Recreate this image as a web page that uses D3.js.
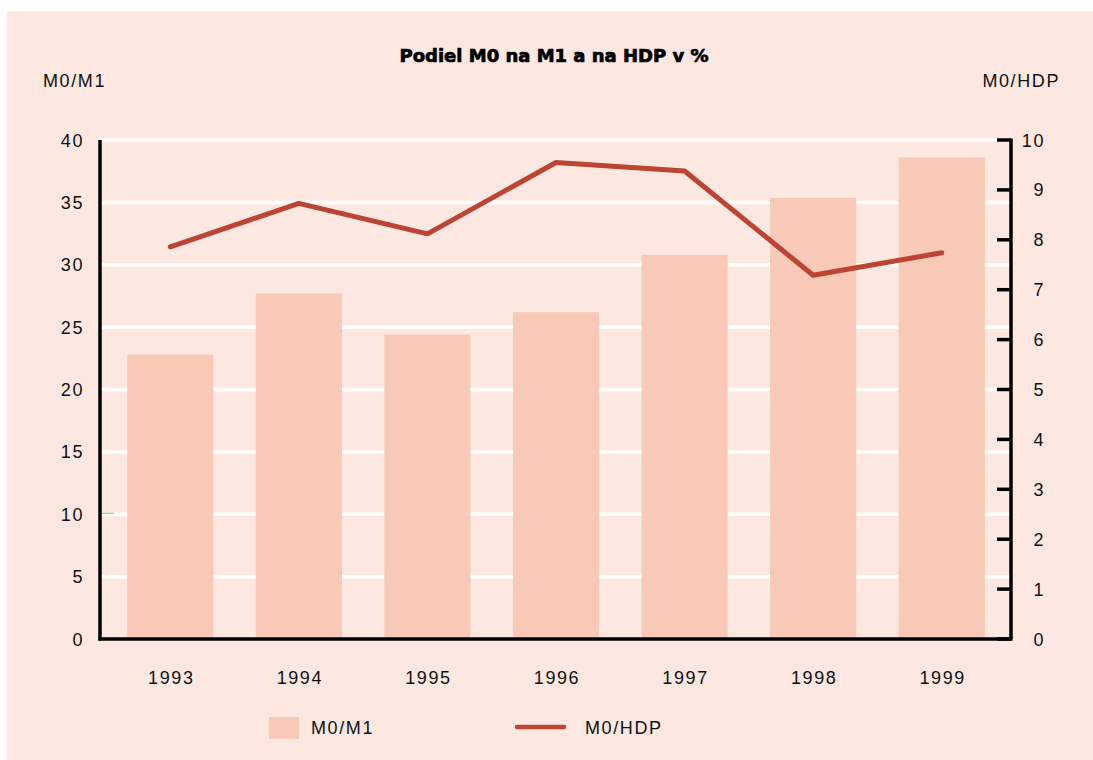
<!DOCTYPE html>
<html>
<head>
<meta charset="utf-8">
<script src="https://cdn.jsdelivr.net/npm/d3@7"></script>
<style>
  body { margin: 0; background: #fff; }
  text { font-family: "Liberation Sans", Arial, sans-serif; fill: #111; }
  .tick-label { font-size: 18px; letter-spacing: 1.6px; }
  .title { font-family: "DejaVu Sans", sans-serif; font-weight: bold; font-size: 18px; fill: #000; stroke: #000; stroke-width: 0.7px; }
</style>
</head>
<body>
<svg width="1093" height="760"></svg>
<script>
var years = ["1993", "1994", "1995", "1996", "1997", "1998", "1999"];
var m0m1 = [22.8, 27.7, 24.4, 26.2, 30.8, 35.35, 38.6];
var m0hdp = [7.86, 8.73, 8.12, 9.55, 9.38, 7.29, 7.74];
var leftTicks = [0, 5, 10, 15, 20, 25, 30, 35, 40];
var rightTicks = [0, 1, 2, 3, 4, 5, 6, 7, 8, 9, 10];

(function () {
  let svg = d3.select("svg"),
      bg = "#fce8e0",
      barColor = "#f8c9b6",
      lineColor = "#bd4332";

  // page background panel
  svg.append("rect")
    .attr("x", 7).attr("y", 11)
    .attr("width", 1093 - 7).attr("height", 760 - 11)
    .attr("fill", bg);

  let plot = { left: 100, right: 1011, top: 140, bottom: 639 };

  let x = d3.scaleBand()
    .domain(years)
    .range([106, 1006])
    .paddingInner(0.33)
    .paddingOuter(0.165);

  let yL = d3.scaleLinear().domain([0, 40]).range([plot.bottom, plot.top]);
  let yR = d3.scaleLinear().domain([0, 10]).range([plot.bottom, plot.top]);

  // white grid lines
  svg.append("g")
    .selectAll("line")
    .data(leftTicks.slice(1))
    .enter().append("line")
      .attr("x1", plot.left).attr("x2", plot.right)
      .attr("y1", d => yL(d)).attr("y2", d => yL(d))
      .attr("stroke", "#fff")
      .attr("stroke-width", 3.5);

  // bars
  svg.append("g")
    .selectAll("rect")
    .data(years)
    .enter().append("rect")
      .attr("x", d => x(d))
      .attr("width", x.bandwidth())
      .attr("y", (d, i) => yL(m0m1[i]))
      .attr("height", (d, i) => yL(0) - yL(m0m1[i]))
      .attr("fill", barColor);

  // odd little grey mark at 10 on the left axis
  svg.append("line")
    .attr("x1", plot.left).attr("x2", plot.left + 14)
    .attr("y1", yL(10) - 1).attr("y2", yL(10) - 1)
    .attr("stroke", "#a9a9a9").attr("stroke-width", 1);

  // line series
  let line = d3.line()
    .x((d, i) => x(years[i]) + x.bandwidth() / 2)
    .y(d => yR(d));

  svg.append("path")
    .datum(m0hdp)
    .attr("d", line)
    .attr("fill", "none")
    .attr("stroke", lineColor)
    .attr("stroke-width", 5)
    .attr("stroke-linecap", "round")
    .attr("stroke-linejoin", "round");

  // axes frame
  let axes = svg.append("g").attr("stroke", "#000").attr("stroke-width", 3.5);
  axes.append("line")
    .attr("x1", plot.left).attr("x2", plot.left)
    .attr("y1", plot.top).attr("y2", plot.bottom + 1.5);
  axes.append("line")
    .attr("x1", plot.left - 1.5).attr("x2", plot.right + 1.5)
    .attr("y1", plot.bottom).attr("y2", plot.bottom);
  axes.append("line")
    .attr("x1", plot.right).attr("x2", plot.right)
    .attr("y1", plot.top - 1.5).attr("y2", plot.bottom);
  axes.selectAll(".rtick")
    .data(rightTicks)
    .enter().append("line")
      .attr("class", "rtick")
      .attr("x1", plot.right - 14).attr("x2", plot.right)
      .attr("y1", d => yR(d)).attr("y2", d => yR(d));

  // tick labels
  svg.append("g")
    .selectAll("text")
    .data(leftTicks)
    .enter().append("text")
      .attr("class", "tick-label")
      .attr("x", 84)
      .attr("y", d => yL(d) + 6.5)
      .attr("text-anchor", "end")
      .text(d => d);

  svg.append("g")
    .selectAll("text")
    .data(rightTicks)
    .enter().append("text")
      .attr("class", "tick-label")
      .attr("x", 1045)
      .attr("y", d => yR(d) + 6.5)
      .attr("text-anchor", "end")
      .text(d => d);

  svg.append("g")
    .selectAll("text")
    .data(years)
    .enter().append("text")
      .attr("class", "tick-label")
      .attr("x", d => x(d) + x.bandwidth() / 2 + 1)
      .attr("y", 684)
      .attr("text-anchor", "middle")
      .text(d => d);

  // titles
  svg.append("text")
    .attr("class", "title")
    .attr("x", 554).attr("y", 62)
    .attr("text-anchor", "middle")
    .text("Podiel M0 na M1 a na HDP v %");

  svg.append("text")
    .attr("class", "tick-label")
    .attr("x", 43).attr("y", 87)
    .text("M0/M1");

  svg.append("text")
    .attr("class", "tick-label")
    .attr("x", 1060).attr("y", 87)
    .attr("text-anchor", "end")
    .text("M0/HDP");

  // legend
  let legend = svg.append("g");
  legend.append("rect")
    .attr("x", 269).attr("y", 717)
    .attr("width", 30).attr("height", 22)
    .attr("fill", barColor);
  legend.append("text")
    .attr("class", "tick-label")
    .attr("x", 311).attr("y", 734)
    .text("M0/M1");
  legend.append("line")
    .attr("x1", 517).attr("x2", 564)
    .attr("y1", 727).attr("y2", 727)
    .attr("stroke", lineColor)
    .attr("stroke-width", 4.5)
    .attr("stroke-linecap", "round");
  legend.append("text")
    .attr("class", "tick-label")
    .attr("x", 585).attr("y", 734)
    .text("M0/HDP");
})();
</script>
</body>
</html>
